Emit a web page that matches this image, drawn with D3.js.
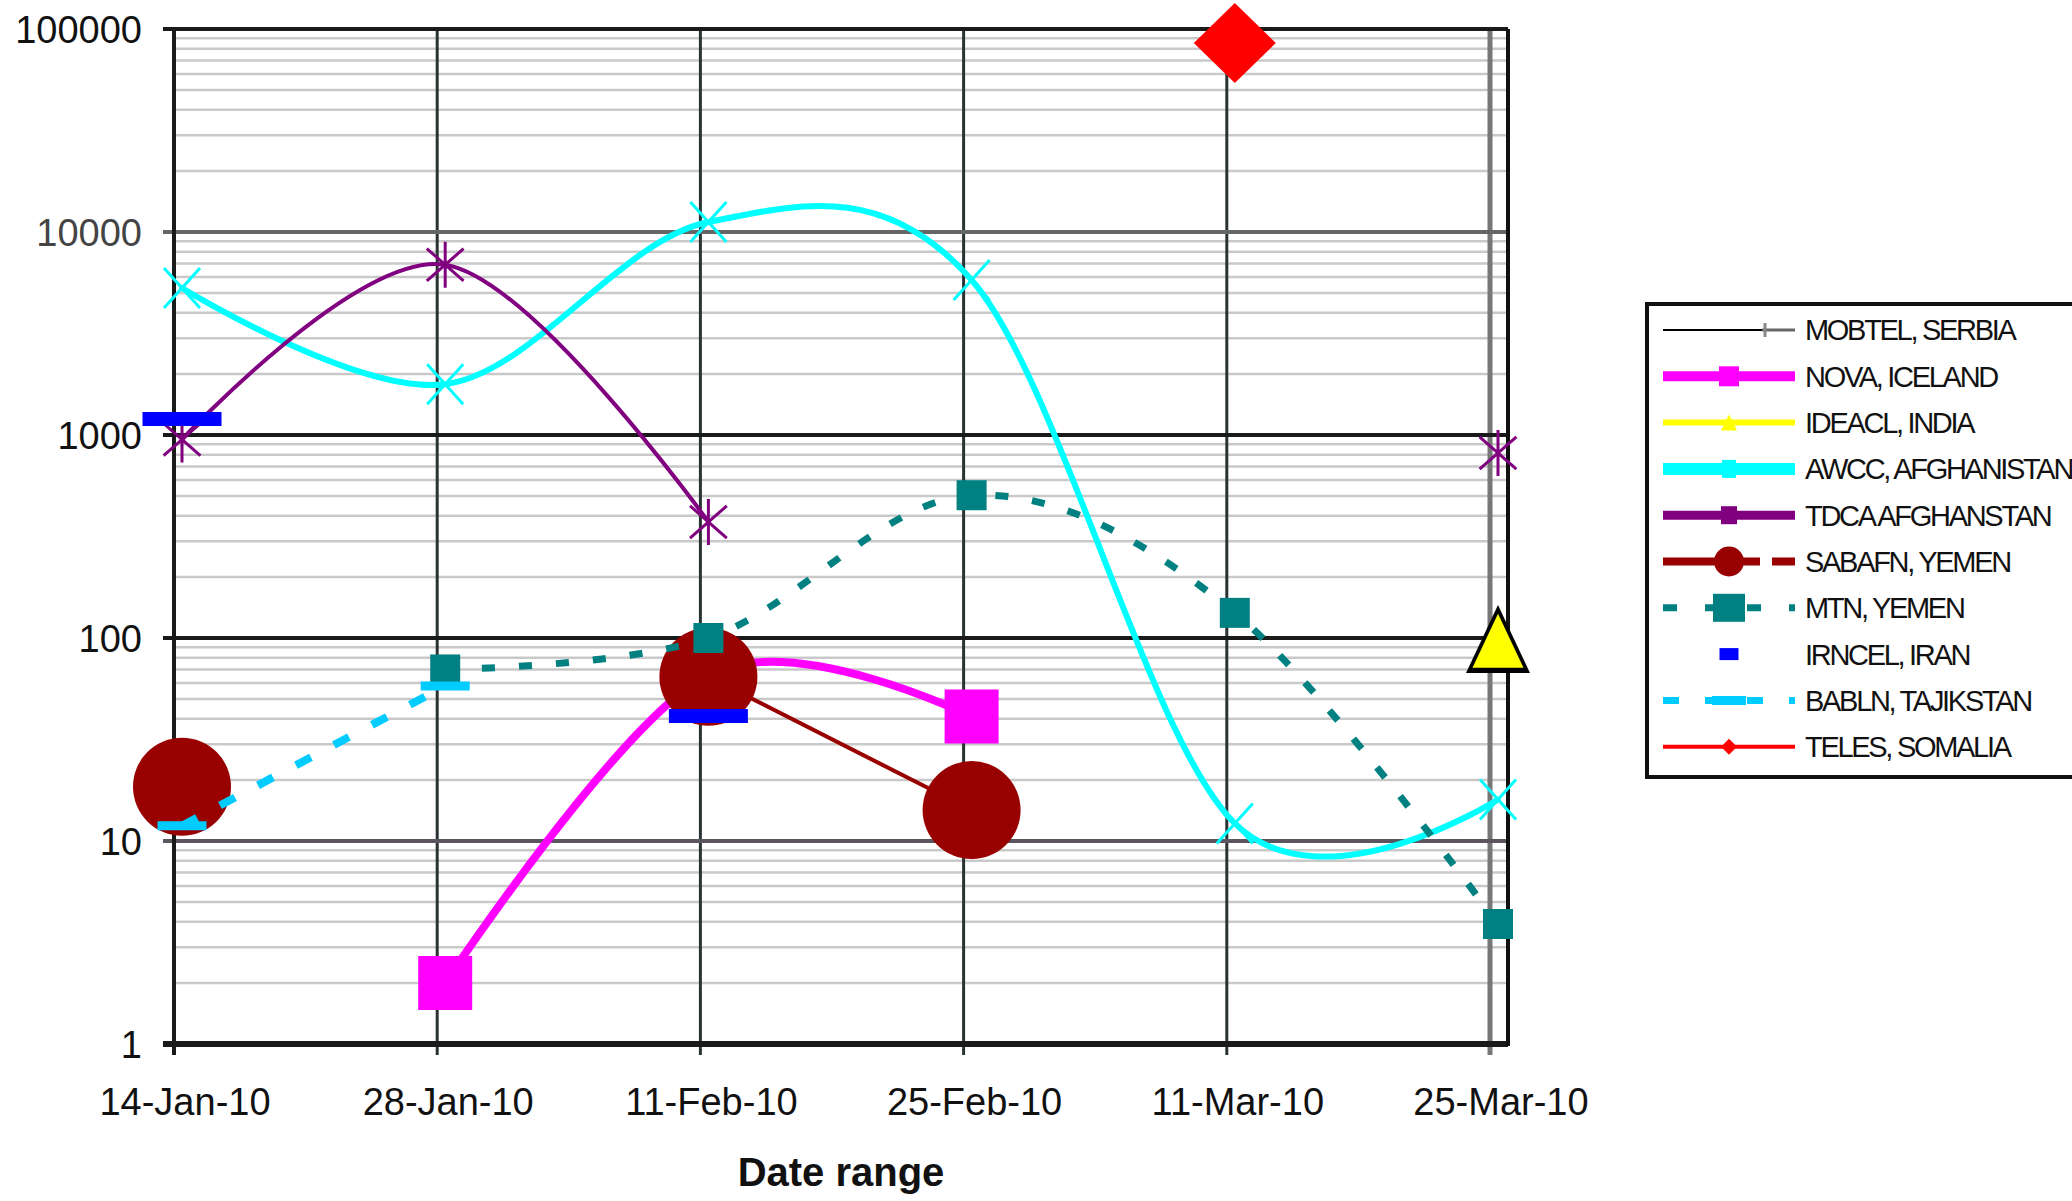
<!DOCTYPE html>
<html>
<head>
<meta charset="utf-8">
<script src="https://cdn.jsdelivr.net/npm/d3@7"></script>
<style>
    body { margin: 0; background: #fff; }
    svg { display: block; }
    text { font-family: "Liberation Sans", Arial, sans-serif; }
</style>
</head>
<body>
<svg id="chart" width="2072" height="1201"></svg>
<script>
// dates of the samples (14 days apart) and decade ticks of the log axis
const dates = ['2010-01-14', '2010-01-28', '2010-02-11', '2010-02-25', '2010-03-11', '2010-03-25'];
const decades = [1, 10, 100, 1000, 10000, 100000];

const seriesNames = ['MOBTEL, SERBIA', 'NOVA, ICELAND', 'IDEACL, INDIA', 'AWCC, AFGHANISTAN', 'TDCA AFGHANSTAN',
    'SABAFN, YEMEN', 'MTN, YEMEN', 'IRNCEL, IRAN', 'BABLN, TAJIKSTAN', 'TELES, SOMALIA'];

// values per date, null = no sample
const mobtel = [null, null, null, null, null, 99];
const nova = [null, 2, 66, 41, null, null];
const ideacl = [null, null, null, null, null, 97];
const awcc = [5300, 1780, 11200, 5800, 12.2, 16];
const tdca = [950, 6900, 373, null, null, 815];
const sabafn = [18.5, null, 64.5, 14.2, null, null];
const mtn = [null, 70, 100, 505, 133, 3.9];
const irncel = [1200, null, 41.3, null, null, null];
const babln = [11.9, 58, null, null, null, null];
const teles = [null, null, null, null, 85300, null];

const parse = d3.timeParse('%Y-%m-%d'), fmt = d3.timeFormat('%d-%b-%y');
const days = dates.map(parse);

const plot = { left: 174, right: 1508, top: 29, bottom: 1044 },
    markShift = 8; // markers sit a little right of the date grid lines

const x = d3.scaleTime().domain(d3.extent(days)).range([plot.left + markShift, 1490 + markShift]),
    y = d3.scaleLog().domain([1, 100000]).range([plot.bottom, plot.top]);

const series = [
    { values: mobtel, color: '#000', width: 2, marker: 'triangle', mw: 64, mh: 68, lg: { w: 2, m: 'none' } },
    { values: nova, color: '#ff00ff', width: 8, marker: 'square', mw: 54, mh: 54, lg: { w: 10, m: 'square', mw: 20, mh: 20 } },
    { values: ideacl, color: '#ffff00', width: 5, marker: 'triangle', mw: 51, mh: 54, lg: { w: 6, m: 'triangle', mw: 16, mh: 16 } },
    { values: awcc, color: '#00ffff', width: 6, marker: 'x', mw: 36, mh: 40, sw: 3, lg: { w: 12, m: 'square', mw: 14, mh: 18 } },
    { values: tdca, color: '#800080', width: 4, marker: 'star', mw: 46, mh: 46, sw: 3, lg: { w: 9, m: 'square', mw: 16, mh: 18 } },
    { values: sabafn, color: '#990000', width: 4, marker: 'circle', mw: 98, mh: 98, lg: { w: 8, m: 'circle', mw: 30, mh: 30, dash: '97,12,23' } },
    { values: mtn, color: '#008080', width: 7, dash: '13,24', marker: 'square', mw: 30, mh: 30, lg: { w: 7, m: 'square', mw: 32, mh: 28, dash: '14,28' } },
    { values: irncel, color: '#0000ff', width: 0, marker: 'bar', mw: 79, mh: 14, lg: { w: 0, m: 'bar', mw: 19, mh: 12 } },
    { values: babln, color: '#00ccff', width: 8, dash: '17,26', marker: 'bar', mw: 49, mh: 9, lg: { w: 7, m: 'bar', mw: 34, mh: 9, dash: '16,26' } },
    { values: teles, color: '#ff0000', width: 3, marker: 'diamond', mw: 82, mh: 80, lg: { w: 4, m: 'diamond', mw: 16, mh: 16 } }
];
series.forEach((s, i) => s.name = seriesNames[i]);

const strokeMarks = ['x', 'star'];

function markerPath(type, w, h) {
    const p = d3.path(), a = w / 2, b = h / 2;
    switch (type) {
        case 'square':
        case 'bar': p.rect(-a, -b, w, h); break;
        case 'circle': p.arc(0, 0, a, 0, 2 * Math.PI); break;
        case 'diamond': p.moveTo(0, -b); p.lineTo(a, 0); p.lineTo(0, b); p.lineTo(-a, 0); p.closePath(); break;
        case 'triangle': p.moveTo(0, -b); p.lineTo(a, b); p.lineTo(-a, b); p.closePath(); break;
        case 'x': p.moveTo(-a, -b); p.lineTo(a, b); p.moveTo(-a, b); p.lineTo(a, -b); break;
        case 'star':
            p.moveTo(0, -b); p.lineTo(0, b);
            p.moveTo(-a * 0.8, -b * 0.7); p.lineTo(a * 0.8, b * 0.7);
            p.moveTo(-a * 0.8, b * 0.7); p.lineTo(a * 0.8, -b * 0.7);
            break;
    }
    return p.toString();
}

function drawMarker(g, type, w, h, color, sw) {
    if (type === 'none') return;
    const m = g.append('path').attr('d', markerPath(type, w, h));
    if (strokeMarks.includes(type)) m.attr('fill', 'none').attr('stroke', color).attr('stroke-width', sw || 3);
    else m.attr('fill', color);
}

const svg = d3.select('#chart');

// minor horizontal grid
const minors = [];
decades.slice(0, -1).forEach(d => d3.range(2, 10).forEach(k => minors.push(d * k)));
svg.append('g').selectAll('line').data(minors).enter().append('line')
    .attr('x1', plot.left).attr('x2', plot.right)
    .attr('y1', d => y(d)).attr('y2', d => y(d))
    .attr('stroke', '#c9c9c9').attr('stroke-width', 2.5);

// vertical date grid
svg.append('g').selectAll('line').data(days).enter().append('line')
    .attr('x1', d => x(d) - markShift).attr('x2', d => x(d) - markShift)
    .attr('y1', plot.top).attr('y2', plot.bottom + 11)
    .attr('stroke', (d, i) => i === days.length - 1 ? '#777' : '#2a3333')
    .attr('stroke-width', (d, i) => i === days.length - 1 ? 5 : 3);

// major horizontal grid
const majorColor = v => ({ 10000: '#666', 10: '#5c5560' })[v] || '#1a1a1a';
svg.append('g').selectAll('line').data(decades).enter().append('line')
    .attr('x1', plot.left - 11).attr('x2', plot.right)
    .attr('y1', d => y(d)).attr('y2', d => y(d))
    .attr('stroke', majorColor)
    .attr('stroke-width', d => d === 1 ? 6 : 4);

// frame
svg.append('line').attr('x1', plot.left).attr('x2', plot.left).attr('y1', plot.top - 2).attr('y2', plot.bottom + 11)
    .attr('stroke', '#1a1a1a').attr('stroke-width', 4);
svg.append('line').attr('x1', plot.right).attr('x2', plot.right).attr('y1', plot.top).attr('y2', plot.bottom + 2)
    .attr('stroke', '#111').attr('stroke-width', 4);

// y labels
svg.append('g').selectAll('text').data(decades).enter().append('text')
    .attr('x', 142).attr('y', d => y(d)).attr('dy', '0.36em')
    .attr('text-anchor', 'end').attr('font-size', 38).attr('fill', d => d === 10000 ? '#444' : '#111')
    .text(d => d);

// x labels
svg.append('g').selectAll('text').data(days).enter().append('text')
    .attr('x', d => x(d) + 3).attr('y', 1115)
    .attr('text-anchor', 'middle').attr('font-size', 38).attr('fill', '#111')
    .text(d => fmt(d));

svg.append('text').attr('x', (plot.left + plot.right) / 2).attr('y', 1186)
    .attr('text-anchor', 'middle').attr('font-size', 40).attr('font-weight', 'bold').attr('fill', '#111')
    .text('Date range');

// series
const line = d3.line()
    .defined(d => d.v != null)
    .x(d => x(d.date)).y(d => y(d.v))
    .curve(d3.curveCardinal.tension(0));

series.forEach(s => {
    const pts = s.values.map((v, i) => ({ date: days[i], v }));
    const g = svg.append('g');
    if (s.width > 0) {
        g.append('path').attr('d', line(pts))
            .attr('fill', 'none').attr('stroke', s.color).attr('stroke-width', s.width)
            .attr('stroke-dasharray', s.dash || null)
            .attr('stroke-linecap', s.dash ? 'butt' : 'round').attr('stroke-linejoin', 'round');
    }
    pts.filter(d => d.v != null).forEach(d => {
        const mg = g.append('g').attr('transform', 'translate(' + x(d.date) + ',' + y(d.v) + ')');
        drawMarker(mg, s.marker, s.mw, s.mh, s.color, s.sw);
    });
});

// legend
const leg = svg.append('g').attr('id', 'legend');
leg.append('rect').attr('x', 1647).attr('y', 304).attr('width', 460).attr('height', 473)
    .attr('fill', '#fff').attr('stroke', '#111').attr('stroke-width', 4);

const legRows = leg.selectAll('g.row').data(series).enter().append('g')
    .attr('class', 'row')
    .attr('transform', (d, i) => 'translate(0,' + (330 + i * 46.3) + ')');

legRows.each(function (s) {
    const r = d3.select(this);
    if (s.lg.w > 0) {
        r.append('line').attr('x1', 1663).attr('x2', 1795).attr('y1', 0).attr('y2', 0)
            .attr('stroke', s.color).attr('stroke-width', s.lg.w)
            .attr('stroke-dasharray', s.lg.dash || null);
    }
    if (s.lg.m !== 'none') {
        const mg = r.append('g').attr('transform', 'translate(1729,0)');
        drawMarker(mg, s.lg.m, s.lg.mw, s.lg.mh, s.color, 2);
    } else {
        r.append('line').attr('x1', 1762).attr('x2', 1795).attr('y1', 0).attr('y2', 0)
            .attr('stroke', '#666').attr('stroke-width', 3);
        r.append('line').attr('x1', 1765).attr('x2', 1765).attr('y1', -7).attr('y2', 7)
            .attr('stroke', '#888').attr('stroke-width', 3);
    }
    r.append('text').attr('x', 1805).attr('y', 0).attr('dy', '0.36em')
        .attr('font-size', 29).attr('letter-spacing', -2.3).attr('fill', '#111')
        .text(s.name);
});
</script>
</body>
</html>
